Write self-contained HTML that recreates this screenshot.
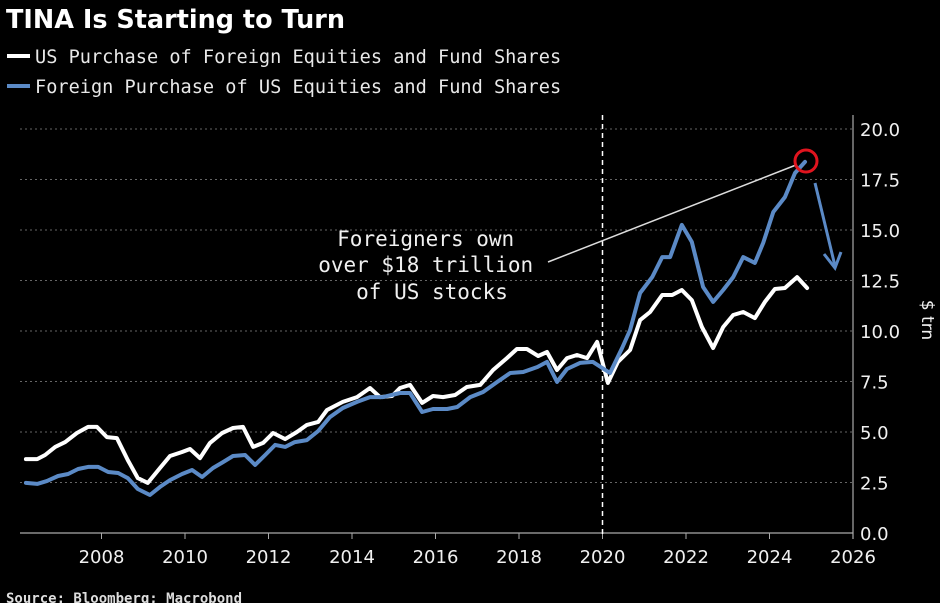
<!DOCTYPE html>
<html><head><meta charset="utf-8"><style>
html,body{margin:0;padding:0;background:#000;}
svg{display:block;}
</style></head><body>
<svg id="chart" width="940" height="603" viewBox="0 0 940 603" xmlns="http://www.w3.org/2000/svg">
<rect width="940" height="603" fill="#000"/>
<text x="6" y="28" fill="#fff" font-family="'DejaVu Sans','Liberation Sans',sans-serif" font-weight="bold" font-size="25.5">TINA Is Starting to Turn</text>
<g>
<g>
<line x1="7" y1="56" x2="30" y2="56" stroke="#fff" stroke-width="4"/>
<text x="35" y="63" fill="#e8e8e8" font-family="'DejaVu Sans Mono','Liberation Mono',monospace" font-size="18.6">US Purchase of Foreign Equities and Fund Shares</text>
</g>
<g>
<line x1="7" y1="86" x2="30" y2="86" stroke="#5b8ac6" stroke-width="4"/>
<text x="35" y="93" fill="#e8e8e8" font-family="'DejaVu Sans Mono','Liberation Mono',monospace" font-size="18.6">Foreign Purchase of US Equities and Fund Shares</text>
</g>
</g>
<g id="grid"></g>
<g id="axes"></g>
<g id="series"></g>
<g>
<line x1="548" y1="262" x2="796" y2="165" stroke="#ddd" stroke-width="1.5"/>
<text text-anchor="middle" fill="#f0f0f0" font-family="'DejaVu Sans Mono','Liberation Mono',monospace" font-size="21">
<tspan x="432" y="246">Foreigners own</tspan>
<tspan x="432" y="272">over $18 trillion</tspan>
<tspan x="432" y="299">of US stocks</tspan>
</text>
<circle cx="806" cy="161" r="11" fill="none" stroke="#e0141e" stroke-width="3"/>
<g stroke="#5b8ac6" stroke-width="3" fill="none">
<line x1="815" y1="183" x2="835" y2="266"/>
<polyline points="824,254 835,268 841,252"/>
</g>
</g>
<text x="6" y="603" fill="#ddd" font-family="'DejaVu Sans Mono','Liberation Mono',monospace" font-weight="bold" font-size="14">Source: Bloomberg; Macrobond</text>
</svg>
<script>
const yTicks = [0, 2.5, 5, 7.5, 10, 12.5, 15, 17.5, 20];
const yTickLabels = ["0.0","2.5","5.0","7.5","10.0","12.5","15.0","17.5","20.0"];
const xTicks = [2008, 2010, 2012, 2014, 2016, 2018, 2020, 2022, 2024, 2026];
const usDates = [2006.19,2006.46,2006.65,2006.89,2007.13,2007.41,2007.68,2007.89,2008.13,2008.37,2008.63,2008.87,2009.11,2009.40,2009.64,2009.93,2010.12,2010.36,2010.60,2010.89,2011.15,2011.39,2011.63,2011.87,2012.11,2012.40,2012.68,2012.92,2013.19,2013.40,2013.78,2014.12,2014.43,2014.67,2014.96,2015.15,2015.39,2015.68,2015.94,2016.18,2016.47,2016.75,2017.07,2017.38,2017.71,2017.95,2018.19,2018.46,2018.67,2018.91,2019.15,2019.39,2019.63,2019.87,2020.13,2020.37,2020.66,2020.90,2021.14,2021.43,2021.67,2021.90,2022.14,2022.38,2022.65,2022.89,2023.13,2023.37,2023.65,2023.89,2024.13,2024.37,2024.66,2024.90];
const usValues = [3.66,3.66,3.86,4.26,4.50,4.95,5.25,5.25,4.75,4.70,3.61,2.72,2.48,3.22,3.81,4.01,4.16,3.71,4.46,4.95,5.20,5.25,4.26,4.46,4.95,4.65,5.00,5.35,5.50,6.09,6.49,6.73,7.18,6.73,6.78,7.18,7.33,6.44,6.78,6.73,6.83,7.23,7.33,8.07,8.66,9.11,9.11,8.76,8.96,8.07,8.66,8.81,8.66,9.46,7.43,8.47,9.06,10.54,10.94,11.78,11.78,12.03,11.53,10.20,9.16,10.20,10.79,10.94,10.64,11.44,12.08,12.13,12.67,12.13];
const foreignDates = [2006.19,2006.46,2006.69,2006.96,2007.20,2007.44,2007.68,2007.92,2008.16,2008.40,2008.63,2008.87,2009.16,2009.40,2009.64,2009.93,2010.17,2010.41,2010.67,2010.91,2011.15,2011.44,2011.68,2011.92,2012.16,2012.40,2012.63,2012.92,2013.19,2013.47,2013.78,2014.12,2014.43,2014.74,2015.15,2015.39,2015.68,2015.94,2016.28,2016.52,2016.83,2017.14,2017.48,2017.79,2018.10,2018.44,2018.67,2018.91,2019.15,2019.46,2019.77,2020.18,2020.47,2020.66,2020.90,2021.19,2021.43,2021.62,2021.90,2022.14,2022.41,2022.65,2022.89,2023.13,2023.37,2023.65,2023.85,2024.09,2024.37,2024.61,2024.85];
const foreignValues = [2.48,2.43,2.57,2.82,2.92,3.17,3.27,3.27,3.02,2.97,2.72,2.18,1.88,2.28,2.62,2.92,3.12,2.77,3.22,3.51,3.81,3.86,3.37,3.86,4.36,4.26,4.50,4.60,5.05,5.74,6.19,6.49,6.73,6.73,6.93,6.93,5.99,6.14,6.14,6.24,6.73,6.98,7.48,7.92,7.97,8.22,8.47,7.48,8.12,8.42,8.47,7.92,9.16,10.05,11.88,12.67,13.66,13.66,15.25,14.41,12.18,11.44,12.03,12.67,13.66,13.37,14.36,15.89,16.63,17.82,18.37];

const NS = "http://www.w3.org/2000/svg";
const X0 = 101.5, PXY = 41.75, Y0 = 533, PXV = 20.2, LEFT = 20, RIGHT = 853;
function xScale(t){ return X0 + (t - 2008) * PXY; }
function yScale(v){ return Y0 - v * PXV; }
function mk(tag, attrs, parent){ const e = document.createElementNS(NS, tag); for (const k in attrs) e.setAttribute(k, attrs[k]); parent.appendChild(e); return e; }

const grid = document.getElementById('grid');
const axes = document.getElementById('axes');
const series = document.getElementById('series');

yTicks.forEach((v, i) => {
  if (v > 0) {
    const g = mk('line', {x1: LEFT, x2: RIGHT, y1: yScale(v), y2: yScale(v), stroke: '#666', 'stroke-width': 1, 'stroke-dasharray': '2,3'}, grid);
    
    
  }
  const t = mk('text', {x: 860, y: yScale(v) + 7, fill: '#f0f0f0', 'font-family': "'DejaVu Sans','Liberation Sans',sans-serif", 'font-size': 18}, axes);
  t.textContent = yTickLabels[i];
  
  
});

const base = mk('line', {x1: LEFT, x2: RIGHT, y1: Y0, y2: Y0, stroke: '#aaa', 'stroke-width': 1.2}, axes);


const rax = mk('line', {x1: RIGHT, x2: RIGHT, y1: 115, y2: Y0 + 6, stroke: '#aaa', 'stroke-width': 1.2}, axes);



xTicks.forEach(yr => {
  const tk = mk('line', {x1: xScale(yr), x2: xScale(yr), y1: Y0, y2: Y0 + 6, stroke: '#aaa', 'stroke-width': 1}, axes);
  
  
  const t = mk('text', {x: xScale(yr), y: 563, fill: '#f0f0f0', 'text-anchor': 'middle', 'font-family': "'DejaVu Sans','Liberation Sans',sans-serif", 'font-size': 18}, axes);
  t.textContent = yr;
  
  
});

const yt = mk('text', {x: 0, y: 0, fill: '#f0f0f0', 'text-anchor': 'middle', 'font-family': "'DejaVu Sans','Liberation Sans',sans-serif", 'font-size': 17, transform: 'translate(922,320) rotate(90)'}, axes);
yt.textContent = '$ trn';



const dash = mk('line', {x1: xScale(2020), x2: xScale(2020), y1: 115, y2: Y0 + 4, stroke: '#fff', 'stroke-width': 1.5, 'stroke-dasharray': '5,4'}, axes);



function drawLine(dates, values, color, name){
  const pts = dates.map((d, i) => xScale(d).toFixed(1) + ',' + yScale(values[i]).toFixed(1)).join(' ');
  const p = mk('polyline', {points: pts, fill: 'none', stroke: color, 'stroke-width': 4, 'stroke-linejoin': 'round', 'stroke-linecap': 'round'}, series);
  
  
}
drawLine(usDates, usValues, '#ffffff', 'us-purchase-line');
drawLine(foreignDates, foreignValues, '#5b8ac6', 'foreign-purchase-line');
</script>
</body></html>
